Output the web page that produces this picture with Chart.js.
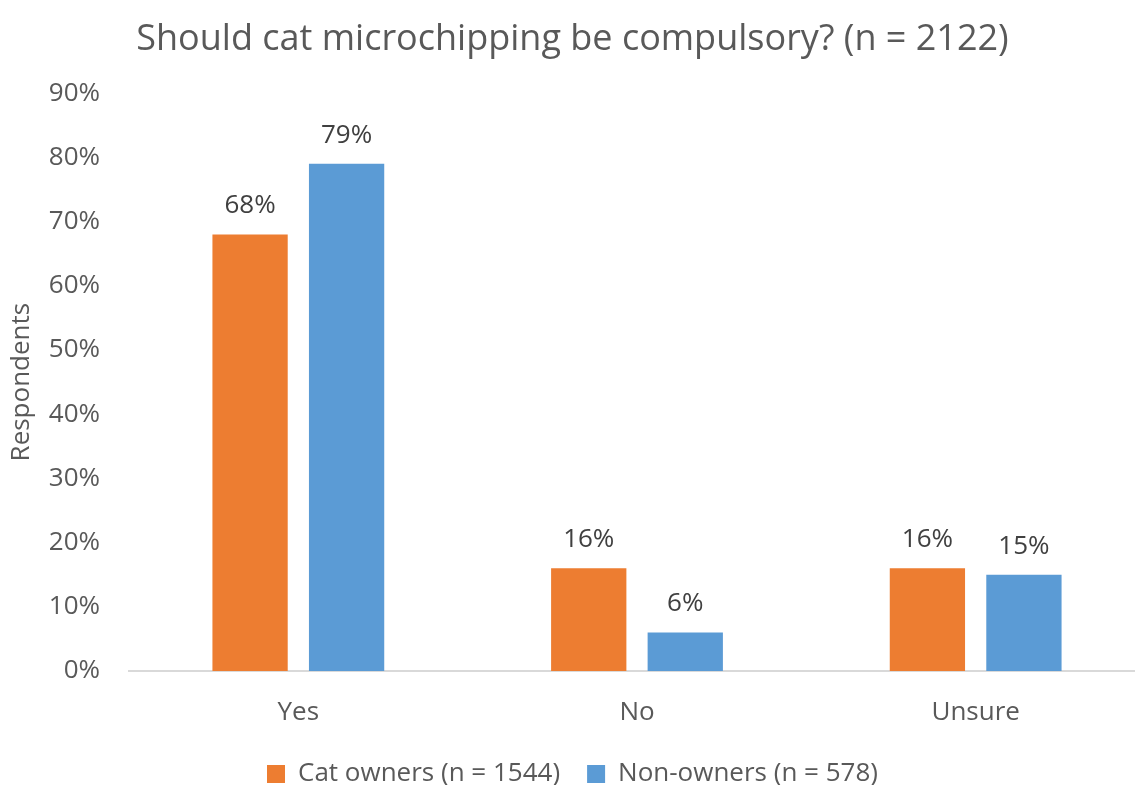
<!DOCTYPE html>
<html>
<head>
<meta charset="utf-8">
<script src="https://cdn.jsdelivr.net/npm/chart.js@4/dist/chart.umd.min.js"></script>
<style>
  html, body { margin: 0; padding: 0; background: #fff; overflow: hidden; }
  #wrap { position: relative; width: 1146px; height: 797px; }
</style>
</head>
<body>
<div id="wrap"><canvas id="c"></canvas></div>
<script>
const categories = ['Yes', 'No', 'Unsure'];
const catOwners = [68, 16, 16];
const nonOwners = [79, 6, 15];
const seriesNames = ['Cat owners (n = 1544)', 'Non-owners (n = 578)'];
const yTicks = [0, 10, 20, 30, 40, 50, 60, 70, 80, 90];
const titleText = 'Should cat microchipping be compulsory? (n = 2122)';
const yTitle = 'Respondents';

const FONT = '"Open Sans", sans-serif';
const TXT = '#595959';

const valueLabels = {
  id: 'valueLabels',
  afterDatasetsDraw(chart) {
    const ctx = chart.ctx;
    ctx.save();
    ctx.font = '26px ' + FONT;
    ctx.fillStyle = '#404040';
    ctx.textAlign = 'center';
    ctx.textBaseline = 'alphabetic';
    chart.data.datasets.forEach((ds, i) => {
      const meta = chart.getDatasetMeta(i);
      meta.data.forEach((el, j) => {
        ctx.fillText(ds.data[j] + '%', el.x, el.y - 21);
      });
    });
    ctx.restore();
  }
};

new Chart(document.getElementById('c'), {
  type: 'bar',
  data: {
    labels: categories,
    datasets: [
      { label: seriesNames[0], data: catOwners, backgroundColor: '#ED7D31',
        categoryPercentage: 0.57, barPercentage: 0.78 },
      { label: seriesNames[1], data: nonOwners, backgroundColor: '#5B9BD5',
        categoryPercentage: 0.57, barPercentage: 0.78 }
    ]
  },
  options: {
    responsive: true,
    maintainAspectRatio: false,
    animation: false,
    layout: { padding: { left: 0, right: 1, top: 0, bottom: 0 } },
    plugins: {
      title: {
        display: true, text: titleText, color: TXT,
        font: { family: FONT, size: 36, weight: 'normal' },
        padding: { top: 18, bottom: 32 }
      },
      legend: {
        position: 'bottom',
        labels: {
          color: TXT, font: { family: FONT, size: 26 },
          boxWidth: 18, boxHeight: 18, padding: 27
        }
      },
      tooltip: { enabled: false }
    },
    scales: {
      x: {
        grid: { display: false, drawTicks: false },
        border: { display: true, color: '#d9d9d9', width: 2 },
        ticks: { color: TXT, font: { family: FONT, size: 26 }, padding: 26 },
        afterFit(scale) { scale.height = 63; }
      },
      y: {
        min: 0, max: 90,
        afterBuildTicks(scale) { scale.ticks = yTicks.map(v => ({ value: v })); },
        grid: { display: false, drawTicks: false },
        border: { display: false },
        ticks: {
          color: TXT, font: { family: FONT, size: 26 }, padding: 29,
          callback: v => v + '%'
        },
        title: {
          display: true, text: yTitle, color: TXT,
          font: { family: FONT, size: 26 },
          padding: { top: 6, bottom: 10 }
        },
        afterFit(scale) { scale.width = 129; }
      }
    }
  },
  plugins: [valueLabels]
});
</script>
</body>
</html>
